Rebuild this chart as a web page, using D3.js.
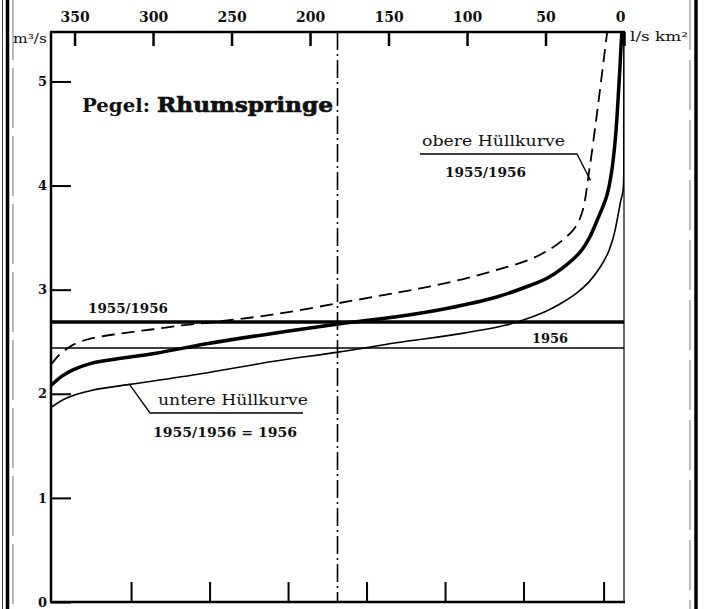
<!DOCTYPE html>
<html>
<head>
<meta charset="utf-8">
<script src="https://cdn.jsdelivr.net/npm/d3@7"></script>
<style>
  html, body { margin: 0; padding: 0; background: #fff; }
  svg { display: block; }
  text { font-family: "DejaVu Serif", "Liberation Serif", serif; fill: #111; }
</style>
</head>
<body>
<svg id="chart" width="705" height="609"></svg>
<script>
// Abflussdauerlinien, Pegel Rhumspringe
// x: Abflussspende-Achse (oben, l/s km²), y: Abfluss in m³/s

const topTicks = [350, 300, 250, 200, 150, 100, 50, 0];
const bottomTicks = [314, 264, 214, 164, 114, 64, 13];
const yTicks = [0, 1, 2, 3, 4, 5];

// obere Hüllkurve 1955/1956 (gestrichelt)
const upperEnvelope = [
  [365, 2.28], [360, 2.37], [355, 2.43], [351, 2.47], [340, 2.53], [320, 2.58],
  [300, 2.62], [280, 2.66], [261, 2.69], [224, 2.76], [182, 2.87], [145, 2.97],
  [124, 3.03], [103, 3.10], [81, 3.19], [60, 3.29], [47, 3.39], [38, 3.49],
  [31, 3.60], [26.5, 3.75], [22, 4.16], [18, 4.60], [15.3, 4.92], [10.5, 5.5]
];

// Dauerlinie 1955/1956 (kräftig)
const durationCurve = [
  [365, 2.08], [358, 2.17], [351, 2.23], [340, 2.29], [330, 2.32], [298, 2.39],
  [266, 2.48], [224, 2.58], [182, 2.67], [145, 2.74], [113, 2.82], [81, 2.93],
  [60, 3.04], [49, 3.11], [39, 3.21], [28, 3.36], [22, 3.50], [17, 3.67],
  [11, 3.90], [8, 4.12], [5.5, 4.45], [3.8, 4.82], [1.3, 5.5]
];

// untere Hüllkurve 1955/1956 = 1956 (dünn)
const lowerEnvelope = [
  [365, 1.87], [355, 1.96], [340, 2.03], [315, 2.09], [266, 2.20], [224, 2.31],
  [182, 2.40], [145, 2.49], [103, 2.58], [75, 2.66], [60, 2.73], [50, 2.79],
  [40, 2.87], [30, 2.97], [22, 3.08], [15, 3.22], [10, 3.36], [6.5, 3.52],
  [4, 3.70], [2, 3.86], [0.6, 3.95], [0.15, 4.60], [0, 5.5]
];

// Mittelwasser-Linien
const meanLabels = ["1955/1956", "1956"];
const meanValues = [2.69, 2.44];

const medianX = 182.5;

const svg = d3.select("#chart");
const plotLeft = 51, plotRight = 624, plotTop = 32, plotBottom = 602;

const x = d3.scaleLinear().domain([365, 0]).range([plotLeft, plotRight]);
const y = d3.scaleLinear().domain([0, 5.475]).range([plotBottom, plotTop]);

// Seitenrand (Doppellinien)
const border = svg.append("g");
border.append("line").attr("x1", 2.5).attr("x2", 2.5).attr("y1", 0).attr("y2", 609)
  .attr("stroke", "#444").attr("stroke-width", 1);
border.append("line").attr("x1", 7.5).attr("x2", 7.5).attr("y1", 0).attr("y2", 609)
  .attr("stroke", "#000").attr("stroke-width", 3.5);
border.append("line").attr("x1", 13).attr("x2", 13).attr("y1", 0).attr("y2", 609)
  .attr("stroke", "#777").attr("stroke-width", 1).attr("stroke-dasharray", "60,8");
border.append("line").attr("x1", 690).attr("x2", 690).attr("y1", 0).attr("y2", 609)
  .attr("stroke", "#777").attr("stroke-width", 1).attr("stroke-dasharray", "50,10");
border.append("line").attr("x1", 696).attr("x2", 696).attr("y1", 0).attr("y2", 609)
  .attr("stroke", "#000").attr("stroke-width", 3.5);

svg.append("defs").append("clipPath").attr("id", "plot-clip")
  .append("rect").attr("x", plotLeft).attr("y", plotTop)
  .attr("width", plotRight - plotLeft).attr("height", plotBottom - plotTop);

// Achsen
const axTop = svg.append("g").attr("transform", `translate(0,${plotTop})`)
  .call(d3.axisTop(x).tickValues(topTicks).tickSizeInner(-14).tickSizeOuter(0)
    .tickPadding(10).tickFormat(d3.format("d")));
axTop.select(".domain").remove();
axTop.selectAll(".tick line").attr("stroke", "#000").attr("stroke-width", 2.5);
axTop.selectAll(".tick text").attr("font-size", 14).attr("font-weight", "bold")
  .attr("font-family", "DejaVu Serif").attr("fill", "#111");
axTop.selectAll(".tick text").filter(d => d === 0).attr("dx", -4);

const axLeft = svg.append("g").attr("transform", `translate(${plotLeft},0)`)
  .call(d3.axisLeft(y).tickValues(yTicks).tickSizeInner(-20).tickSizeOuter(0)
    .tickPadding(4).tickFormat(d3.format("d")));
axLeft.select(".domain").remove();
axLeft.selectAll(".tick line").attr("stroke", "#000").attr("stroke-width", 2);
axLeft.selectAll(".tick text").attr("font-size", 13).attr("font-weight", "bold")
  .attr("font-family", "DejaVu Serif").attr("fill", "#111");

const axBottom = svg.append("g").attr("transform", `translate(0,${plotBottom})`)
  .call(d3.axisBottom(x).tickValues(bottomTicks).tickSizeInner(-20).tickSizeOuter(0).tickFormat(""));
axBottom.select(".domain").remove();
axBottom.selectAll(".tick line").attr("stroke", "#000").attr("stroke-width", 2);

// Rahmen
const frame = svg.append("g").attr("stroke", "#000").attr("fill", "none");
frame.append("line").attr("x1", plotLeft - 1).attr("x2", plotRight + 1).attr("y1", plotTop).attr("y2", plotTop).attr("stroke-width", 2.5);
frame.append("line").attr("x1", plotLeft - 1).attr("x2", plotRight + 1).attr("y1", plotBottom).attr("y2", plotBottom).attr("stroke-width", 2.5);
frame.append("line").attr("x1", plotLeft).attr("x2", plotLeft).attr("y1", plotTop).attr("y2", plotBottom).attr("stroke-width", 2.5);
frame.append("line").attr("x1", plotRight).attr("x2", plotRight).attr("y1", plotTop).attr("y2", plotBottom).attr("stroke-width", 1.2);

// Einheiten
svg.append("text").attr("x", 13).attr("y", 43).attr("font-size", 12)
  .attr("textLength", 34).attr("lengthAdjust", "spacingAndGlyphs").text("m³/s");
svg.append("text").attr("x", 630).attr("y", 41).attr("font-size", 13)
  .attr("textLength", 58).attr("lengthAdjust", "spacingAndGlyphs").text("l/s km²");

// Mittelwasser-Linien
const plot = svg.append("g").attr("clip-path", "url(#plot-clip)");
plot.selectAll("line.mean").data(meanValues).join("line").attr("class", "mean")
  .attr("x1", plotLeft).attr("x2", plotRight)
  .attr("y1", d => y(d)).attr("y2", d => y(d))
  .attr("stroke", "#000")
  .attr("stroke-width", (d, i) => i === 0 ? 3.5 : 1.6);

// Mittellinie (strichpunktiert)
svg.append("line").attr("x1", x(medianX)).attr("x2", x(medianX))
  .attr("y1", plotTop).attr("y2", plotBottom)
  .attr("stroke", "#000").attr("stroke-width", 1.6)
  .attr("stroke-dasharray", "18,4,2,4");

// Dauerlinien
const line = d3.line().x(d => x(d[0])).y(d => y(d[1])).curve(d3.curveCatmullRom.alpha(0.5));
plot.append("path").attr("d", line(upperEnvelope)).attr("fill", "none")
  .attr("stroke", "#000").attr("stroke-width", 1.8).attr("stroke-dasharray", "13,7");
plot.append("path").attr("d", line(durationCurve)).attr("fill", "none")
  .attr("stroke", "#000").attr("stroke-width", 3.5);
plot.append("path").attr("d", line(lowerEnvelope)).attr("fill", "none")
  .attr("stroke", "#000").attr("stroke-width", 1.6);

// Titel
svg.append("text").attr("x", 82).attr("y", 112).attr("font-size", 19).attr("font-weight", "bold")
  .attr("textLength", 68).attr("lengthAdjust", "spacingAndGlyphs").text("Pegel:");
svg.append("text").attr("x", 157).attr("y", 112).attr("font-size", 21).attr("font-weight", "bold")
  .attr("font-family", "DejaVu Serif").attr("stroke", "#111").attr("stroke-width", 0.7)
  .attr("textLength", 176).attr("lengthAdjust", "spacingAndGlyphs").text("Rhumspringe");

// Beschriftungen der Mittelwasser-Linien
svg.append("text").attr("x", 88).attr("y", 313).attr("font-size", 13).attr("font-weight", "bold")
  .attr("textLength", 80).attr("lengthAdjust", "spacingAndGlyphs").text(meanLabels[0]);
svg.append("text").attr("x", 532).attr("y", 343).attr("font-size", 13).attr("font-weight", "bold")
  .attr("textLength", 36).attr("lengthAdjust", "spacingAndGlyphs").text(meanLabels[1]);

// obere Hüllkurve: Beschriftung mit Hinweislinie
const upperTip = upperEnvelope.find(d => d[0] === 22);
svg.append("text").attr("x", 422).attr("y", 146).attr("font-size", 14)
  .attr("textLength", 143).attr("lengthAdjust", "spacingAndGlyphs").text("obere Hüllkurve");
svg.append("text").attr("x", 445).attr("y", 177).attr("font-size", 13).attr("font-weight", "bold")
  .attr("textLength", 81).attr("lengthAdjust", "spacingAndGlyphs").text("1955/1956");
svg.append("polyline")
  .attr("points", `420,154 577,154 ${x(upperTip[0]) + 1},${y(4.05)}`)
  .attr("fill", "none").attr("stroke", "#000").attr("stroke-width", 1.3);

// untere Hüllkurve: Beschriftung mit Hinweislinie
svg.append("text").attr("x", 158).attr("y", 405).attr("font-size", 14)
  .attr("textLength", 150).attr("lengthAdjust", "spacingAndGlyphs").text("untere Hüllkurve");
svg.append("text").attr("x", 153).attr("y", 437).attr("font-size", 13).attr("font-weight", "bold")
  .attr("textLength", 144).attr("lengthAdjust", "spacingAndGlyphs").text("1955/1956 = 1956");
svg.append("polyline")
  .attr("points", `${x(315)},${y(2.09)} 150,413 303,413`)
  .attr("fill", "none").attr("stroke", "#000").attr("stroke-width", 1.3);
</script>
</body>
</html>
